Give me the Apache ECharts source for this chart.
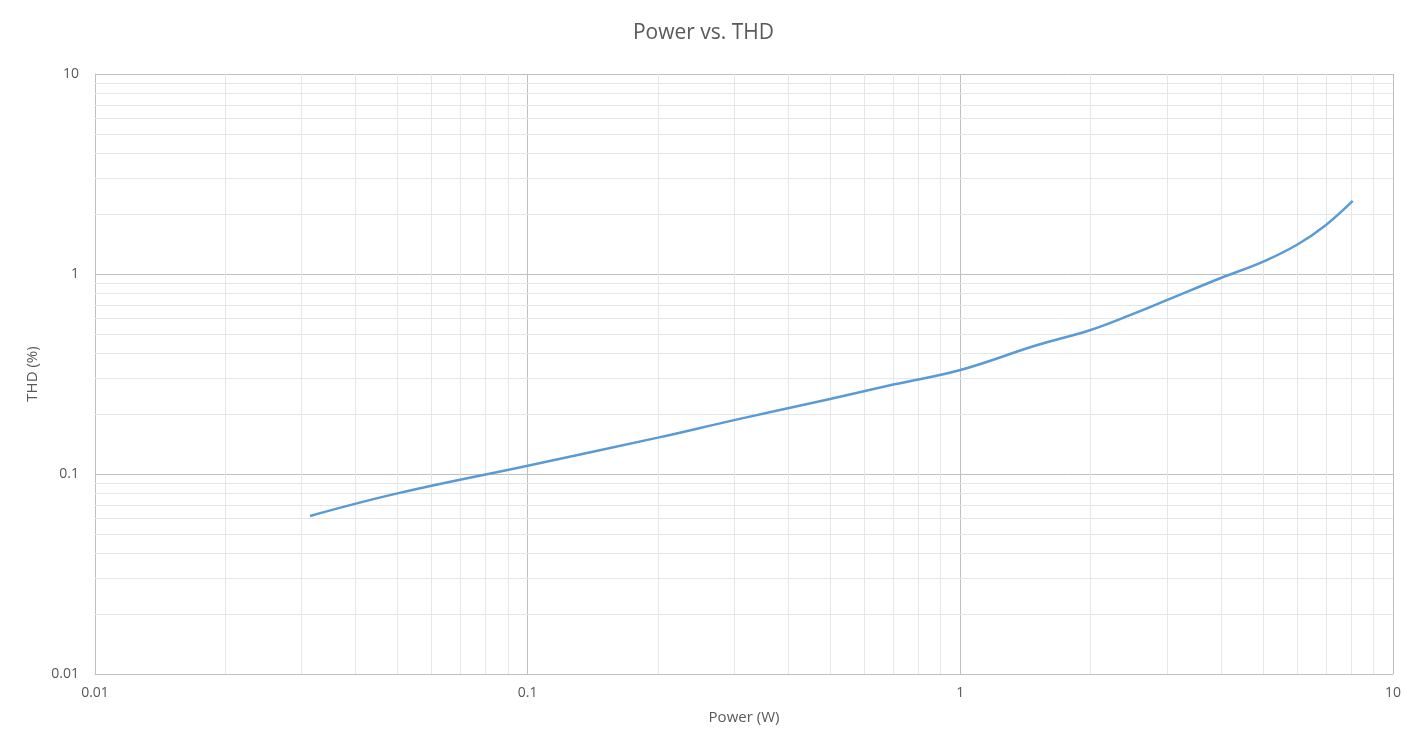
<!DOCTYPE html>
<html><head><meta charset="utf-8">
<script src="https://cdn.jsdelivr.net/npm/echarts@6/dist/echarts.min.js"></script>
<style>html,body{margin:0;padding:0;background:#fff}#c{width:1407px;height:742px}</style>
</head><body><div id="c"></div>
<script>
const power = [0.0314, 0.05, 0.1, 0.2, 0.3, 0.5, 0.7, 1, 1.5, 2, 2.5, 3, 4, 5, 6, 7, 8.07];
const thd   = [0.0617, 0.08, 0.11, 0.152, 0.186, 0.237, 0.28, 0.331, 0.44, 0.525, 0.63, 0.74, 0.955, 1.15, 1.4, 1.76, 2.32];
const xTicks = [0.01, 0.1, 1, 10];
const yTicks = [0.01, 0.1, 1, 10];
const minorMult = [2,3,4,5,6,7,8,9];

const xMinor = [], yMinor = [];
for (const d of [0.01, 0.1, 1]) for (const m of minorMult) { xMinor.push({xAxis: +(d*m).toPrecision(3)}); yMinor.push({yAxis: +(d*m).toPrecision(3)}); }

const chart = echarts.init(document.getElementById('c'));
const font = '"Open Sans", "Liberation Sans", "Noto Sans", sans-serif';
chart.setOption({
  animation: false,
  title: {text: 'Power vs. THD', left: 'center', top: 18, textStyle: {color: '#595959', fontSize: 21, fontWeight: 'normal', fontFamily: font}},
  grid: {left: 95, right: 14, top: 74, bottom: 68},
  xAxis: {type: 'log', min: 0.01, max: 10, logBase: 10,
    name: 'Power (W)', nameLocation: 'middle', nameGap: 36,
    nameTextStyle: {color: '#595959', fontSize: 15, fontFamily: font},
    axisLine: {show: true, lineStyle: {color: '#bfbfbf'}}, axisTick: {show: false},
    axisLabel: {color: '#595959', fontSize: 14, fontFamily: font, margin: 12, formatter: v => String(+v.toPrecision(3))},
    splitLine: {show: true, lineStyle: {color: '#bfbfbf'}}},
  yAxis: {type: 'log', min: 0.01, max: 10, logBase: 10,
    name: 'THD (%)', nameLocation: 'middle', nameGap: 50,
    nameTextStyle: {color: '#595959', fontSize: 15, fontFamily: font},
    axisLine: {show: true, lineStyle: {color: '#bfbfbf'}}, axisTick: {show: false},
    axisLabel: {color: '#595959', fontSize: 14, fontFamily: font, margin: 16, formatter: v => String(+v.toPrecision(3))},
    splitLine: {show: true, lineStyle: {color: '#bfbfbf'}}},
  series: [
    {type: 'line', data: [], silent: true,
      markLine: {silent: true, symbol: 'none', label: {show: false}, lineStyle: {color: '#e6e6e6', type: 'solid', width: 1}, data: xMinor.concat(yMinor)}},
    {type: 'line', data: power.map((p, i) => [p, thd[i]]), smooth: 0.4, showSymbol: false,
      lineStyle: {color: '#5b9bd5', width: 2.5}, z: 5}
  ]
});
</script></body></html>
